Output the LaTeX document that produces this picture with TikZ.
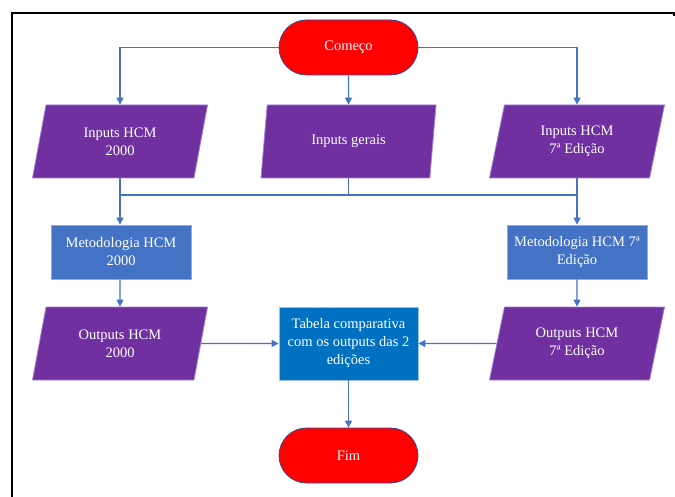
\documentclass[tikz,border=0pt]{standalone}
\usepackage{fontspec}
\setmainfont{Liberation Serif}
\usetikzlibrary{shapes.geometric,shapes.misc,arrows.meta}

\definecolor{termred}{HTML}{FF0000}
\definecolor{termedge}{HTML}{2F4F8F}
\definecolor{iopurple}{HTML}{7030A0}
\definecolor{ioedge}{HTML}{A27FD0}
\definecolor{procblue}{HTML}{4472C4}
\definecolor{procedge}{HTML}{8FAADC}
\definecolor{tabblue}{HTML}{0070C0}
\definecolor{tabedge}{HTML}{9DC3E6}
\definecolor{flow}{HTML}{4472C4}

\tikzset{
  every node/.style={text=white, font=\fontsize{14.5}{18}\selectfont, align=center},
  terminal/.style={shape=rounded rectangle, fill=termred, draw=termedge, line width=0.8pt,
    minimum width=139pt, minimum height=55pt, inner sep=0pt},
  iobox/.style={shape=trapezium, trapezium left angle=64, trapezium right angle=116,
    trapezium stretches body=true, fill=iopurple, draw=ioedge, line width=0.8pt,
    minimum width=175pt, minimum height=73pt, inner sep=0pt},
  procbox/.style={shape=rectangle, fill=procblue, draw=procedge, line width=0.8pt,
    minimum width=140pt, minimum height=54pt, inner sep=0pt},
  tabbox/.style={shape=rectangle, fill=tabblue, draw=tabedge, line width=0.8pt,
    minimum width=139pt, minimum height=73pt, inner sep=0pt},
  flowline/.style={draw=flow, line width=1.4pt},
  flowarrow/.style={flowline, -{Triangle[length=7pt,width=7pt]}},
  frameline/.style={draw=black, line width=2pt}
}

\begin{document}
\begin{tikzpicture}[x=1pt,y=-1pt]
\useasboundingbox (0,0) rectangle (675,497);

% outer frame (top and left edges)
\draw[frameline] (675,13.5) -- (12,13.5) -- (12,497);
\draw[frameline] (674,13.5) -- (674,16.5);

% nodes
\node[terminal] (start) at (348.5,47.5) {Começo};
\node[iobox] (in1) at (120,141.5) {Inputs HCM\\2000};
\node[iobox] (in2) at (348.5,141.5) {Inputs gerais};
\node[iobox] (in3) at (577,141.5) {Inputs HCM\\7ª Edição};
\node[procbox] (met1) at (121,252) {Metodologia HCM\\2000};
\node[procbox] (met3) at (577,252) {Metodologia HCM 7ª\\Edição};
\node[iobox] (out1) at (120,343.5) {Outputs HCM\\2000};
\node[iobox] (out3) at (577,343.5) {Outputs HCM\\7ª Edição};
\node[tabbox] (tab) at (348.5,343.5) {Tabela comparativa\\com os outputs das 2\\edições};
\node[terminal] (fim) at (348.5,455.5) {Fim};

% junction level below the inputs
\coordinate (j) at (0,195);

% connectors
\draw[flowarrow] (start.west) -| (in1.north);
\draw[flowarrow] (start.south) -- (in2.north);
\draw[flowarrow] (start.east) -| (in3.north);

\draw[flowarrow] (in1.south) -- (met1.north -| in1.south);
\draw[flowarrow] (in3.south) -- (met3.north -| in3.south);
\draw[flowline] (in2.south) -- (in2.south |- j);
\draw[flowline] (in1.south |- j) -- (in3.south |- j);

\draw[flowarrow] (met1.south -| in1.south) -- (out1.north);
\draw[flowarrow] (met3.south) -- (out3.north);

\draw[flowarrow] (out1.east) -- (tab.west);
\draw[flowarrow] (out3.west) -- (tab.east);
\draw[flowarrow] (tab.south) -- (fim.north);
\end{tikzpicture}
\end{document}
